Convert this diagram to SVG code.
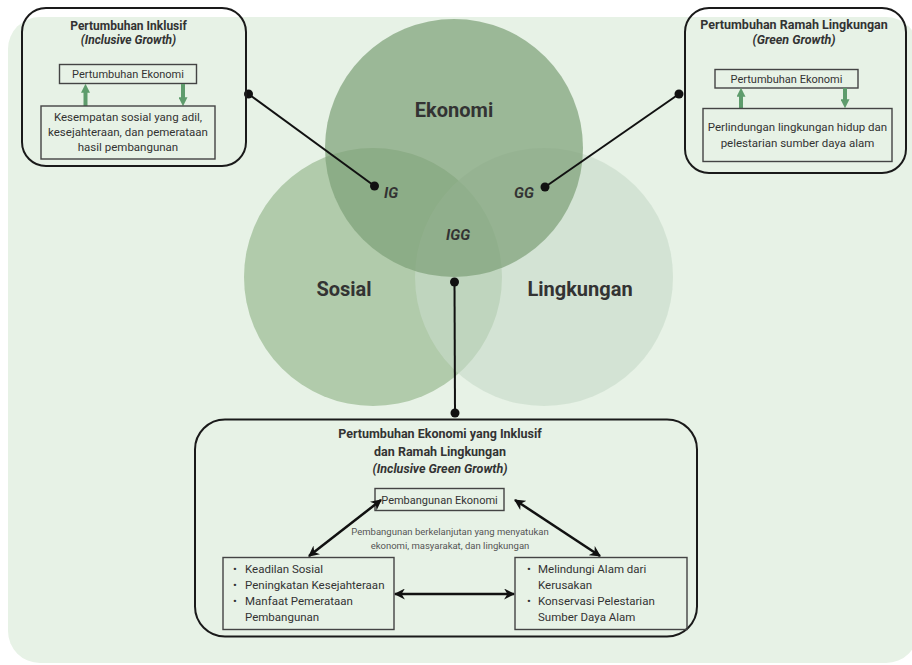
<svg xmlns="http://www.w3.org/2000/svg" width="912" height="665" viewBox="0 0 912 665">
<defs>
<style>
.t{font-family:Roboto,"Liberation Sans",sans-serif;fill:#333;text-anchor:middle}
.b{font-weight:bold}
.i{font-style:italic}
.outer{fill:none;stroke:#1a1a1a;stroke-width:2}
.inner{fill:none;stroke:#444;stroke-width:1.4}
.conn{stroke:#111;stroke-width:2;fill:none}
.dot{fill:#111}
.garrow{stroke:#5e9c6c;stroke-width:4;fill:none}
.barrow{stroke:#111;stroke-width:2.5;fill:none}
.li{font-family:Roboto,"Liberation Sans",sans-serif;fill:#333;font-size:11.5px}
</style>
<marker id="gh" viewBox="0 0 10 10" refX="2" refY="5" markerWidth="9" markerHeight="9" markerUnits="userSpaceOnUse" orient="auto">
<path d="M0,0 L10,5 L0,10 z" fill="#5e9c6c"/>
</marker>
<marker id="bh" viewBox="0 0 10 10" refX="9" refY="5" markerWidth="11" markerHeight="11" markerUnits="userSpaceOnUse" orient="auto-start-reverse">
<path d="M0,0 L10,5 L0,10 L3,5 z" fill="#111"/>
</marker>
</defs>
<rect x="0" y="0" width="912" height="665" fill="#ffffff"/>
<rect x="8" y="17" width="910" height="646" rx="32" fill="#e7f2e6"/>

<g id="venn">
<circle id="c-sosial" cx="373" cy="277" r="129" fill="#b1cbab"/>
<circle id="c-lingkungan" cx="544" cy="277" r="129" fill="#c7dac9" fill-opacity="0.63"/>
<circle id="c-ekonomi" cx="454" cy="148" r="129" fill="#7ea179" fill-opacity="0.72"/>
<text class="t b" x="454" y="117" font-size="20">Ekonomi</text>
<text class="t b" x="344" y="296" font-size="20">Sosial</text>
<text class="t b" x="580" y="296" font-size="20">Lingkungan</text>
<text class="t b i" x="391" y="198" font-size="15">IG</text>
<text class="t b i" x="524" y="198" font-size="15">GG</text>
<text class="t b i" x="458" y="240" font-size="15">IGG</text>
</g>

<g id="connectors">
<line class="conn" x1="248.5" y1="94" x2="374.5" y2="186"/>
<circle class="dot" cx="248.5" cy="94" r="4.5"/>
<circle class="dot" cx="374.5" cy="186" r="4.5"/>
<line class="conn" x1="679" y1="94" x2="545" y2="187"/>
<circle class="dot" cx="679" cy="94" r="4.5"/>
<circle class="dot" cx="545" cy="187" r="4.5"/>
<line class="conn" x1="454.5" y1="282" x2="455" y2="413"/>
<circle class="dot" cx="454.5" cy="282" r="4.5"/>
<circle class="dot" cx="455" cy="413" r="4.5"/>
</g>

<g id="ig-box">
<rect class="outer" x="22" y="8" width="224" height="158" rx="24"/>
<text class="t b" x="128.5" y="30" font-size="12">Pertumbuhan Inklusif</text>
<text class="t b i" x="128.5" y="44" font-size="12">(Inclusive Growth)</text>
<rect class="inner" x="59.5" y="64.5" width="137" height="19"/>
<text class="t" x="128" y="78" font-size="11">Pertumbuhan Ekonomi</text>
<line class="garrow" x1="85.5" y1="106" x2="85.5" y2="91" marker-end="url(#gh)"/>
<line class="garrow" x1="183" y1="84" x2="183" y2="99" marker-end="url(#gh)"/>
<rect class="inner" x="41" y="106" width="174" height="53"/>
<text class="t" x="128" y="121" font-size="11.5">Kesempatan sosial yang adil,</text>
<text class="t" x="128" y="136" font-size="11.5">kesejahteraan, dan pemerataan</text>
<text class="t" x="128" y="151" font-size="11.5">hasil pembangunan</text>
</g>

<g id="gg-box">
<rect class="outer" x="685" y="8" width="221" height="165" rx="24"/>
<text class="t b" x="794" y="29" font-size="12.5">Pertumbuhan Ramah Lingkungan</text>
<text class="t b i" x="794" y="44" font-size="12.5">(Green Growth)</text>
<rect class="inner" x="715" y="69.5" width="143" height="18.5"/>
<text class="t" x="786.5" y="82.5" font-size="11">Pertumbuhan Ekonomi</text>
<line class="garrow" x1="741" y1="108" x2="741" y2="95" marker-end="url(#gh)"/>
<line class="garrow" x1="845" y1="88" x2="845" y2="101" marker-end="url(#gh)"/>
<rect class="inner" x="703" y="108.5" width="189" height="53"/>
<text class="t" x="797.5" y="131" font-size="11.5">Perlindungan lingkungan hidup dan</text>
<text class="t" x="797.5" y="147" font-size="11.5">pelestarian sumber daya alam</text>
</g>

<g id="igg-box">
<rect class="outer" x="195" y="419.5" width="502" height="217" rx="30"/>
<text class="t b" x="440" y="438" font-size="12.5">Pertumbuhan Ekonomi yang Inklusif</text>
<text class="t b" x="440" y="455.5" font-size="12.5">dan Ramah Lingkungan</text>
<text class="t b i" x="440" y="472.5" font-size="12.5">(Inclusive Green Growth)</text>
</g>

<g id="pembangunan-ekonomi">
<rect class="inner" x="375" y="488.5" width="129" height="22"/>
<text class="t" x="439.5" y="503.5" font-size="11">Pembangunan Ekonomi</text>
</g>

<g id="sosial-list">
<rect class="inner" x="223" y="557.5" width="171" height="72"/>
<text class="li" x="233" y="573">•</text><text class="li" x="245" y="573">Keadilan Sosial</text>
<text class="li" x="233" y="589">•</text><text class="li" x="245" y="589">Peningkatan Kesejahteraan</text>
<text class="li" x="233" y="605">•</text><text class="li" x="245" y="605">Manfaat Pemerataan</text>
<text class="li" x="245" y="621">Pembangunan</text>
</g>

<g id="lingkungan-list">
<rect class="inner" x="515" y="557.5" width="172" height="72"/>
<text class="li" x="527" y="573">•</text><text class="li" x="538" y="573">Melindungi Alam dari</text>
<text class="li" x="538" y="589">Kerusakan</text>
<text class="li" x="527" y="605">•</text><text class="li" x="538" y="605">Konservasi Pelestarian</text>
<text class="li" x="538" y="621">Sumber Daya Alam</text>
</g>

<g id="igg-arrows">
<line class="barrow" x1="381" y1="500" x2="309" y2="556" marker-start="url(#bh)" marker-end="url(#bh)"/>
<line class="barrow" x1="515" y1="500" x2="600" y2="556" marker-start="url(#bh)" marker-end="url(#bh)"/>
<line class="barrow" x1="395" y1="594" x2="514" y2="594" marker-start="url(#bh)" marker-end="url(#bh)"/>
<text class="t" x="450" y="535" font-size="9.5" style="fill:#555">Pembangunan berkelanjutan yang menyatukan</text>
<text class="t" x="450" y="549" font-size="9.5" style="fill:#555">ekonomi, masyarakat, dan lingkungan</text>
</g>
</svg>
